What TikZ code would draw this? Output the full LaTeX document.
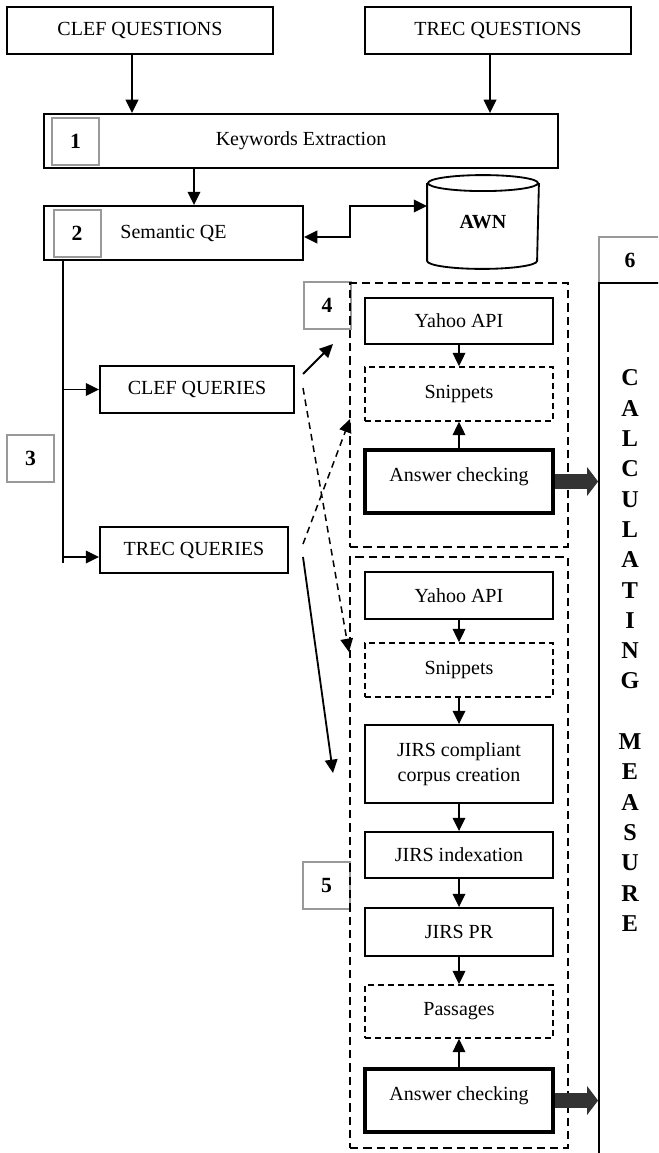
\documentclass[tikz,border=0pt]{standalone}
\usepackage{fontspec}
\setmainfont{Liberation Serif}
\usetikzlibrary{arrows.meta}

\begin{document}
\begin{tikzpicture}[x=0.6pt,y=-0.6pt,
  font=\fontsize{12}{15}\selectfont,
  line width=1.1pt,
  >={Triangle[length=8pt,width=7.5pt]},
  qbox/.style={draw,rectangle,inner sep=0pt,align=center},
  numbox/.style={draw=black!40,line width=1.2pt,inner sep=0pt,minimum width=28.2pt,minimum height=28.2pt,font=\fontsize{13}{15}\selectfont\bfseries},
  snipbox/.style={qbox,line width=0.9pt,dash pattern=on 3.6pt off 2.4pt},
  checkbox/.style={qbox,line width=2.4pt,text depth=8pt},
  stagebox/.style={draw,inner sep=0pt,line width=1.3pt,dash pattern=on 5pt off 3pt},
  crossline/.style={->,line width=0.9pt,dash pattern=on 4pt off 3pt},
  fatarrow/.style={draw=black!80,line width=9pt,-{Triangle[length=6.6pt,width=17pt]}}]

\useasboundingbox (0,0) rectangle (658,1153);
\clip (0,0) rectangle (658,1153);

\node[qbox,minimum width=159.6pt,minimum height=28.2pt] (cq) at (140,30.5) {CLEF QUESTIONS};
\node[qbox,minimum width=159.6pt,minimum height=28.2pt] (tq) at (498,30.5) {TREC QUESTIONS};

\node[qbox,minimum width=308.4pt,minimum height=32.4pt] (kw) at (301,141) {Keywords Extraction};
\node[numbox] (n1) at (75.5,141.5) {1};

\node[qbox,minimum width=155.4pt,minimum height=32.4pt] (sqe) at (173.5,233) {Semantic QE};
\node[numbox] (n2) at (77,233) {2};

\node[inner sep=0pt,minimum width=66pt,minimum height=55.2pt] (awn) at (483,222) {\textbf{AWN}};
\draw ([yshift=-4.8pt]awn.north) ellipse[x radius=33pt,y radius=4.8pt];
\draw ([yshift=-4.8pt]awn.north west) -- ([yshift=4.8pt]awn.south west)
  arc[start angle=180,end angle=360,x radius=33pt,y radius=4.8pt] -- ([yshift=-4.8pt]awn.north east);

\draw[->] (cq.south -| 132,0) -- (kw.north -| 132,0);
\draw[->] (tq.south -| 490,0) -- (kw.north -| 490,0);
\draw[->] (kw.south -| 194,0) -- (sqe.north -| 194,0);
\draw[<->] ([yshift=-2.4pt]sqe.east) -- (350,237) |- ([yshift=9.6pt]awn.west);

\node[qbox,minimum width=116.4pt,minimum height=28.2pt] (clq) at (197,389.5) {CLEF QUERIES};
\node[qbox,minimum width=112.8pt,minimum height=27.6pt] (trq) at (194,550) {TREC QUERIES};
\node[numbox] (n3) at (30.5,458) {3};

\coordinate (t0) at (sqe.south -| 63,0);
\coordinate (t1) at (63,563);
\coordinate (tb) at (63,557);
\draw (t0) -- (t1);
\draw[->] (t0 |- clq.west) -- (clq.west);
\draw[->] (tb) -- (tb -| trq.west);

\node[numbox] (n4) at (327,305.5) {4};
\node[numbox] (n5) at (326.5,885.5) {5};
\node[stagebox,minimum width=130.8pt,minimum height=158.4pt] (g4) at (459,415) {};
\node[stagebox,minimum width=130.8pt,minimum height=354.6pt] (g5) at (459,852.5) {};

\node[qbox,minimum width=112.8pt,minimum height=27.6pt] (ya1) at (459,321) {Yahoo API};
\node[snipbox,minimum width=112.8pt,minimum height=32.4pt] (sn1) at (459,394) {Snippets};
\node[checkbox,minimum width=112.8pt,minimum height=37.8pt] (ac1) at (459,481.5) {Answer checking};
\draw[->] (ya1) -- (sn1);
\draw[->] (ac1) -- (sn1);

\node[qbox,minimum width=112.8pt,minimum height=28.2pt] (ya2) at (459,595.5) {Yahoo API};
\node[snipbox,minimum width=112.8pt,minimum height=32.4pt] (sn2) at (459,670) {Snippets};
\node[qbox,minimum width=112.8pt,minimum height=46.8pt] (jc) at (459,764) {JIRS compliant\\corpus creation};
\node[qbox,minimum width=112.8pt,minimum height=27.6pt] (ji) at (459,855) {JIRS indexation};
\node[qbox,minimum width=112.8pt,minimum height=28.8pt] (jp) at (459,932) {JIRS PR};
\node[snipbox,minimum width=112.8pt,minimum height=31.8pt] (pa) at (459,1011.5) {Passages};
\node[checkbox,minimum width=112.8pt,minimum height=37.8pt] (ac2) at (459,1100.5) {Answer checking};
\draw[->] (ya2) -- (sn2);
\draw[->] (sn2) -- (jc);
\draw[->] (jc) -- (ji);
\draw[->] (ji) -- (jp);
\draw[->] (jp) -- (pa);
\draw[->] (ac2) -- (pa);

\coordinate (c1s) at (303,374);
\coordinate (c1e) at (333,344);
\coordinate (c2s) at (303,388);
\coordinate (c2e) at (349,652);
\coordinate (t1s) at (303,544);
\coordinate (t1e) at (350,419);
\coordinate (t2s) at (303,557);
\coordinate (t2e) at (333,773);
\draw[->] (c1s) -- (c1e);
\draw[crossline] (c2s) -- (c2e);
\draw[crossline] (t1s) -- (t1e);
\draw[->] (t2s) -- (t2e);

\node[numbox,minimum width=37.2pt,minimum height=27.6pt] (n6) at (630,260) {6};
\node[draw,inner sep=0pt,minimum width=49.2pt,minimum height=532.2pt] (meas) at (640,726.5) {};
\foreach \ch [count=\i] in {C,A,L,C,U,L,A,T,I,N,G,{},M,E,A,S,U,R,E}
  \node[font=\fontsize{14.5}{16}\selectfont\bfseries] (m\i) at (630,{378+(\i-1)*30.3}) {\ch};

\draw[fatarrow] (ac1.east) -- (ac1.east -| meas.west);
\draw[fatarrow] (ac2.east) -- (ac2.east -| meas.west);

\end{tikzpicture}
\end{document}
